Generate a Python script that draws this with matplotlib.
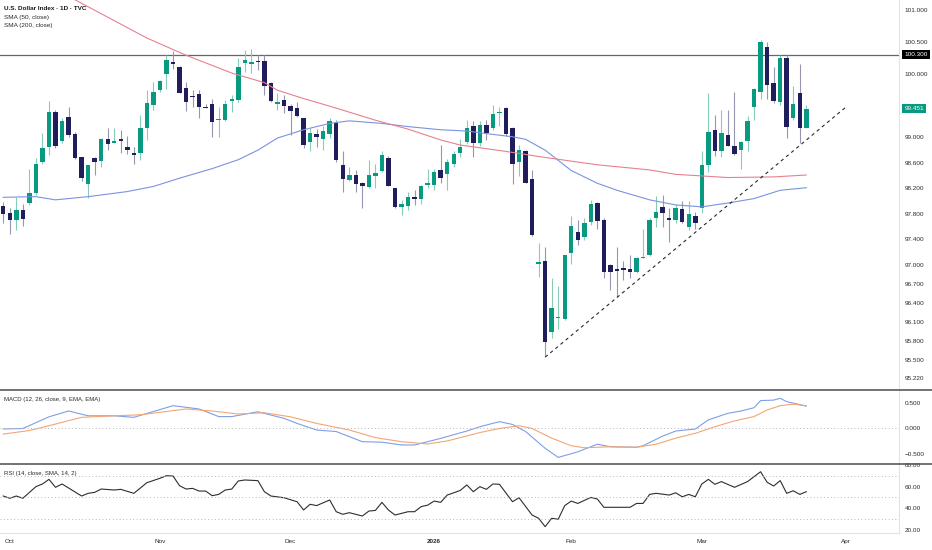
import numpy as np
import matplotlib
matplotlib.use("Agg")
import matplotlib.pyplot as plt
from matplotlib.lines import Line2D

# daily bars, bar index 0 = 30 Sep 2025 ... 123 = 24 Mar 2026
opens = [97.93, 97.82, 97.71, 97.86, 97.97, 98.12, 98.62, 98.85, 99.40, 98.95,
         99.32, 99.06, 98.69, 98.27, 98.68, 98.63, 98.97, 98.92, 98.96, 98.85,
         98.76, 98.75, 99.14, 99.51, 99.75, 99.99, 100.18, 100.11, 99.77, 99.64,
         99.68, 99.48, 99.52, 99.27, 99.27, 99.57, 99.59, 100.17, 100.16, 100.20,
         100.20, 99.85, 99.53, 99.59, 99.49, 99.46, 99.30, 98.93, 99.05, 98.97,
         99.06, 99.23, 98.57, 98.33, 98.41, 98.28, 98.22, 98.39, 98.48, 98.68,
         98.21, 97.90, 97.93, 98.07, 98.03, 98.26, 98.25, 98.49, 98.43, 98.59,
         98.75, 98.93, 99.18, 98.91, 99.19, 99.14, 99.38, 99.46, 99.14, 98.62,
         98.79, 98.35, 97.02, 97.06, 95.94, 96.16, 96.15, 97.19, 97.52, 97.44,
         97.68, 97.97, 97.71, 97.00, 96.92, 96.95, 96.93, 96.88, 97.10, 97.15,
         97.74, 97.90, 97.72, 97.71, 97.88, 97.60, 97.76, 97.89, 98.57, 99.12,
         98.79, 99.03, 98.87, 98.80, 98.94, 99.47, 99.71, 100.42, 99.86, 99.56,
         100.24, 99.30, 99.69, 99.15]
highs = [97.99, 97.89, 98.07, 97.96, 98.51, 98.67, 99.07, 99.57, 99.43, 99.30,
         99.48, 99.09, 98.70, 98.57, 98.70, 98.99, 99.15, 99.14, 99.12, 99.02,
         98.85, 99.35, 99.74, 99.87, 99.90, 100.29, 100.36, 100.12, 99.87, 99.75,
         99.74, 99.52, 99.60, 99.48, 99.59, 99.67, 100.24, 100.37, 100.38, 100.29,
         100.29, 99.87, 99.70, 99.67, 99.52, 99.56, 99.30, 99.14, 99.13, 99.18,
         99.31, 99.27, 98.78, 98.54, 98.49, 98.30, 98.65, 98.58, 98.78, 98.71,
         98.21, 98.02, 98.14, 98.18, 98.25, 98.51, 98.50, 98.88, 98.66, 98.78,
         98.98, 99.27, 99.25, 99.25, 99.27, 99.51, 99.48, 99.48, 99.16, 98.88,
         98.80, 98.49, 97.34, 97.28, 96.79, 96.66, 97.16, 97.76, 97.70, 97.74,
         98.01, 97.99, 97.73, 97.01, 97.28, 97.06, 97.15, 97.13, 97.56, 97.73,
         98.08, 98.10, 97.89, 97.96, 98.00, 98.00, 97.83, 98.78, 99.69, 99.35,
         99.43, 99.43, 99.71, 98.94, 99.33, 99.77, 100.53, 100.49, 100.11, 100.29,
         100.30, 99.80, 100.15, 99.51]
lows = [97.65, 97.49, 97.55, 97.61, 97.94, 98.10, 98.59, 98.72, 98.84, 98.91,
        99.01, 98.66, 98.31, 98.05, 98.41, 98.53, 98.80, 98.91, 98.75, 98.74,
        98.59, 98.65, 98.96, 99.43, 99.72, 99.76, 100.07, 99.69, 99.42, 99.48,
        99.30, 99.46, 99.01, 99.01, 99.26, 99.40, 99.56, 100.03, 100.01, 100.06,
        99.67, 99.56, 99.43, 99.39, 99.04, 99.32, 98.84, 98.79, 98.85, 98.81,
        98.99, 98.62, 98.15, 98.32, 98.15, 97.89, 98.20, 98.20, 98.45, 98.23,
        97.89, 97.78, 97.86, 97.94, 97.96, 98.20, 98.17, 98.28, 98.18, 98.53,
        98.70, 98.90, 98.70, 98.87, 98.96, 99.11, 99.18, 99.02, 98.27, 98.39,
        98.28, 97.45, 96.81, 95.57, 95.85, 96.00, 96.13, 97.02, 97.31, 97.39,
        97.62, 97.57, 96.80, 96.61, 96.49, 96.76, 96.80, 96.87, 97.10, 97.14,
        97.60, 97.60, 97.36, 97.65, 97.65, 97.55, 97.57, 97.81, 98.46, 98.71,
        98.70, 98.86, 98.72, 98.51, 98.78, 99.27, 99.61, 99.61, 99.54, 99.51,
        98.99, 99.27, 98.91, 99.14]
closes = [97.80, 97.71, 97.86, 97.72, 98.12, 98.58, 98.84, 99.40, 98.87, 99.26,
          99.04, 98.67, 98.36, 98.56, 98.61, 98.98, 98.90, 98.93, 98.95, 98.81,
          98.73, 99.14, 99.54, 99.72, 99.89, 100.21, 100.16, 99.70, 99.56, 99.63,
          99.47, 99.46, 99.24, 99.29, 99.53, 99.60, 100.11, 100.21, 100.19, 100.18,
          99.81, 99.57, 99.55, 99.49, 99.42, 99.33, 98.88, 99.07, 99.00, 99.10,
          99.25, 98.65, 98.34, 98.41, 98.27, 98.23, 98.41, 98.44, 98.73, 98.24,
          97.90, 97.96, 98.06, 98.03, 98.23, 98.29, 98.45, 98.37, 98.62, 98.74,
          98.85, 99.14, 98.91, 99.19, 99.07, 99.37, 99.40, 99.06, 98.58, 98.80,
          98.29, 97.47, 97.05, 95.79, 96.33, 96.17, 97.15, 97.61, 97.39, 97.65,
          97.95, 97.69, 96.88, 96.89, 96.91, 96.92, 96.88, 97.10, 97.13, 97.70,
          97.83, 97.81, 97.71, 97.89, 97.67, 97.79, 97.66, 98.57, 99.08, 98.79,
          99.07, 98.87, 98.74, 98.93, 99.26, 99.76, 100.49, 99.82, 99.57, 100.24,
          99.17, 99.52, 99.15, 99.451]

# moving averages (bar index, value)
sma50_idx = [0, 5, 8, 13, 19, 23, 27, 32, 36, 39, 42, 46, 50, 53, 58, 62, 67,
             71, 74, 78, 80, 83, 87, 91, 94, 99, 103, 107, 111, 115, 119, 123]
sma50 = [98.06, 98.07, 98.02, 98.07, 98.15, 98.23, 98.36, 98.51, 98.65, 98.80,
         98.99, 99.12, 99.22, 99.26, 99.22, 99.17, 99.12, 99.10, 99.06, 99.01,
         98.97, 98.80, 98.48, 98.28, 98.17, 98.02, 97.94, 97.91, 97.97, 98.04,
         98.17, 98.21]
sma200_idx = [8, 11, 22, 28, 35, 40, 42, 46, 51, 57, 62, 67, 70, 77, 82, 91,
              99, 103, 111, 118, 123]
sma200 = [101.29, 101.16, 100.56, 100.29, 100.01, 99.86, 99.74, 99.61, 99.46,
          99.27, 99.13, 98.96, 98.88, 98.78, 98.70, 98.57, 98.49, 98.42, 98.37,
          98.38, 98.41]

# trend line from the January low
trend_idx = [83, 129]
trend_val = [95.55, 99.47]

macd_idx = [0, 3, 7, 10, 13, 17, 20, 26, 30, 33, 35, 39, 43, 45, 48, 51, 55,
            58, 61, 63, 67, 71, 73, 76, 78, 80, 83, 85, 88, 91, 93, 97, 98, 101,
            103, 106, 108, 111, 113, 115, 116, 118, 119, 120, 121, 123]
macd = [-0.01, 0.0, 0.23, 0.345, 0.25, 0.25, 0.22, 0.45, 0.385, 0.235, 0.235,
        0.33, 0.20, 0.10, -0.03, -0.06, -0.26, -0.27, -0.325, -0.325, -0.195,
        -0.05, 0.035, 0.135, 0.08, -0.06, -0.39, -0.57, -0.46, -0.31, -0.36,
        -0.37, -0.34, -0.15, -0.05, -0.01, 0.17, 0.30, 0.345, 0.41, 0.55, 0.56,
        0.595, 0.53, 0.50, 0.44]
sig_idx = [0, 4, 7, 12, 17, 21, 28, 32, 36, 40, 44, 48, 53, 57, 61, 65, 68, 70,
           73, 76, 79, 81, 84, 87, 89, 93, 97, 100, 103, 106, 109, 112, 115,
           117, 119, 121, 123]
signal = [-0.11, -0.04, 0.055, 0.22, 0.25, 0.27, 0.385, 0.345, 0.285, 0.31,
          0.23, 0.10, -0.03, -0.18, -0.26, -0.305, -0.245, -0.18, -0.08, 0.0,
          0.055, 0.0, -0.19, -0.34, -0.38, -0.36, -0.37, -0.31, -0.19, -0.095,
          0.035, 0.15, 0.235, 0.365, 0.45, 0.48, 0.45]

rsi_idx = [0, 1, 2, 3, 5, 6, 7, 8, 9, 12, 13, 14, 15, 17, 18, 20, 22, 24, 25,
           26, 27, 28, 29, 30, 31, 32, 33, 34, 35, 36, 37, 39, 40, 41, 43, 45,
           46, 47, 48, 50, 51, 52, 53, 55, 56, 57, 58, 59, 60, 62, 63, 64, 65,
           66, 67, 68, 69, 70, 71, 72, 73, 74, 75, 76, 78, 79, 81, 82, 83, 84,
           85, 86, 87, 88, 90, 91, 92, 96, 97, 98, 99, 100, 102, 103, 104, 105,
           106, 107, 108, 109, 110, 112, 114, 116, 117, 118, 119, 120, 121,
           122, 123]
rsi = [51.2, 49.1, 51.2, 49.1, 59.9, 62.4, 66.7, 59.3, 62.4, 51.2, 53.7, 54.6,
       57.7, 56.8, 57.4, 53.7, 63.6, 67.7, 70.1, 69.8, 60.8, 57.7, 58.3, 55.8,
       55.8, 51.5, 52.7, 56.8, 57.7, 65.2, 66.1, 65.5, 55.2, 51.2, 49.6, 45.9,
       38.2, 43.5, 42.3, 47.5, 36.6, 34.2, 35.7, 32.6, 37.2, 37.8, 45.3, 38.2,
       33.5, 36.6, 36.6, 41.3, 42.7, 46.5, 45.3, 52.1, 54.2, 56.4, 61.5, 55.2,
       59.9, 57.4, 62.4, 62.1, 45.9, 49.6, 33.5, 30.5, 22.7, 30.5, 29.6, 42.3,
       46.5, 44.3, 49.9, 48.4, 40.7, 40.7, 44.3, 44.3, 52.7, 53.7, 52.1, 54.2,
       50.5, 52.7, 50.5, 62.4, 66.7, 62.1, 64.6, 59.3, 64.6, 73.8, 64.0, 60.5,
       65.5, 53.7, 56.1, 52.7, 55.2]

month_idx = [1, 24, 44, 66, 87, 107, 129]
month_lab = ["Oct", "Nov", "Dec", "2026", "Feb", "Mar", "Apr"]
price_ticks = [101.0, 100.5, 100.0, 99.0, 98.6, 98.2, 97.8, 97.4, 97.0, 96.7,
               96.4, 96.1, 95.8, 95.5, 95.22]

UP = "#089981"
DOWN = "#1f1d5c"
WICK_UP = "#86cdb9"
WICK_DOWN = "#9696b0"
TXT = "#2b2b2b"
FS = 4.6

plt.rcParams["font.family"] = ["Liberation Sans", "DejaVu Sans"]

W, H = 932, 550
fig = plt.figure(figsize=(W / 100, H / 100), dpi=100)
right = 899 / W
ax = fig.add_axes([0, 1 - 390 / H, right, 390 / H])
axm = fig.add_axes([0, 1 - 464 / H, right, 74 / H], sharex=ax)
axr = fig.add_axes([0, 1 - 533 / H, right, 69 / H], sharex=ax)

for a in (ax, axm, axr):
    for s in a.spines.values():
        s.set_visible(False)
    a.spines["right"].set_visible(True)
    a.spines["right"].set_color("#e0e3eb")
    a.spines["right"].set_linewidth(0.8)
    a.yaxis.tick_right()
    a.tick_params(axis="y", length=0, pad=4, labelsize=FS, labelcolor=TXT)
    a.tick_params(axis="x", length=0)
axr.spines["bottom"].set_visible(True)
axr.spines["bottom"].set_color("#e0e3eb")

# candles
o = np.array(opens); h = np.array(highs); l = np.array(lows); c = np.array(closes)
x = np.arange(len(o))
up = c >= o
lo = np.minimum(o, c)
hgt = np.maximum(np.abs(c - o), 0.02)
ax.vlines(x[up], l[up], h[up], color=WICK_UP, lw=0.8, zorder=2)
ax.vlines(x[~up], l[~up], h[~up], color=WICK_DOWN, lw=0.8, zorder=2)
ax.bar(x[up], hgt[up], bottom=lo[up], width=0.68, color=UP, lw=0, zorder=3)
ax.bar(x[~up], hgt[~up], bottom=lo[~up], width=0.68, color=DOWN, lw=0, zorder=3)

ax.plot(sma50_idx, sma50, color="#7b93e0", lw=0.8, zorder=4)
ax.plot(sma200_idx, sma200, color="#e8808e", lw=0.8, zorder=4)
ax.plot(trend_idx, trend_val, color="#2a2a2a", lw=0.8, ls=(0, (3, 3)), zorder=4)
ax.axhline(100.3, color="#666666", lw=0.9, zorder=1)

ax.set_ylim(95.035, 101.157)
ax.set_xlim(-0.5, 137.2)
ax.set_yticks(price_ticks)
ax.set_yticklabels([f"{v:.3f}" for v in price_ticks])
ax.tick_params(axis="x", labelbottom=False)

ytr = ax.get_yaxis_transform()
ax.text(1.006, 100.3, "100.300", transform=ytr, ha="left", va="center",
        fontsize=FS, color="white",
        bbox=dict(boxstyle="square,pad=0.35", fc="black", ec="none"))
ax.text(1.006, closes[-1], f"{closes[-1]:.3f}", transform=ytr, ha="left",
        va="center", fontsize=FS, color="white",
        bbox=dict(boxstyle="square,pad=0.35", fc=UP, ec="none"))

lx = 4 / W / right
ax.text(lx, 1 - 8 / 390, "U.S. Dollar Index · 1D · TVC",
        transform=ax.transAxes, fontsize=FS, fontweight="bold", color="#1a1a1a",
        va="center")
ax.text(lx, 1 - 17 / 390, "SMA (50, close)",
        transform=ax.transAxes, fontsize=FS, color=TXT, va="center")
ax.text(lx, 1 - 26 / 390, "SMA (200, close)",
        transform=ax.transAxes, fontsize=FS, color=TXT, va="center")

# MACD pane
axm.plot(macd_idx, macd, color="#7f9ee8", lw=0.8)
axm.plot(sig_idx, signal, color="#f4a672", lw=0.8)
axm.axhline(0, color="#b8b8b8", lw=0.7, ls=(0, (1, 2.5)))
axm.set_ylim(-0.70, 0.759)
axm.set_yticks([0.5, 0.0, -0.5])
axm.set_yticklabels(["0.500", "0.000", "\u22120.500"])
axm.tick_params(axis="x", labelbottom=False)
axm.text(lx, 1 - 9 / 74, "MACD (12, 26, close, 9, EMA, EMA)",
         transform=axm.transAxes, fontsize=FS - 0.3, color=TXT, va="center")

# RSI pane
axr.plot(rsi_idx, rsi, color="#2e2e2e", lw=0.8)
for lev in (70, 50, 30):
    axr.axhline(lev, color="#b8b8b8", lw=0.7, ls=(0, (1, 2.5)))
axr.set_ylim(16.8, 80.98)
axr.set_yticks([80, 60, 40, 20])
axr.set_yticklabels(["80.00", "60.00", "40.00", "20.00"])
axr.text(lx, 1 - 10 / 69, "RSI (14, close, SMA, 14, 2)",
         transform=axr.transAxes, fontsize=FS - 0.3, color=TXT, va="center")
axr.set_xticks(month_idx)
axr.set_xticklabels(month_lab)
axr.tick_params(axis="x", labelsize=FS, labelcolor=TXT, pad=4)
for t in axr.get_xticklabels():
    if t.get_text() == "2026":
        t.set_fontweight("bold")

# pane separators
for yy in (390, 464):
    fig.add_artist(Line2D([0, 1], [1 - yy / H, 1 - yy / H], color="#5a5a5a",
                          lw=1.2, transform=fig.transFigure))

fig.savefig("out.png", dpi=100)
